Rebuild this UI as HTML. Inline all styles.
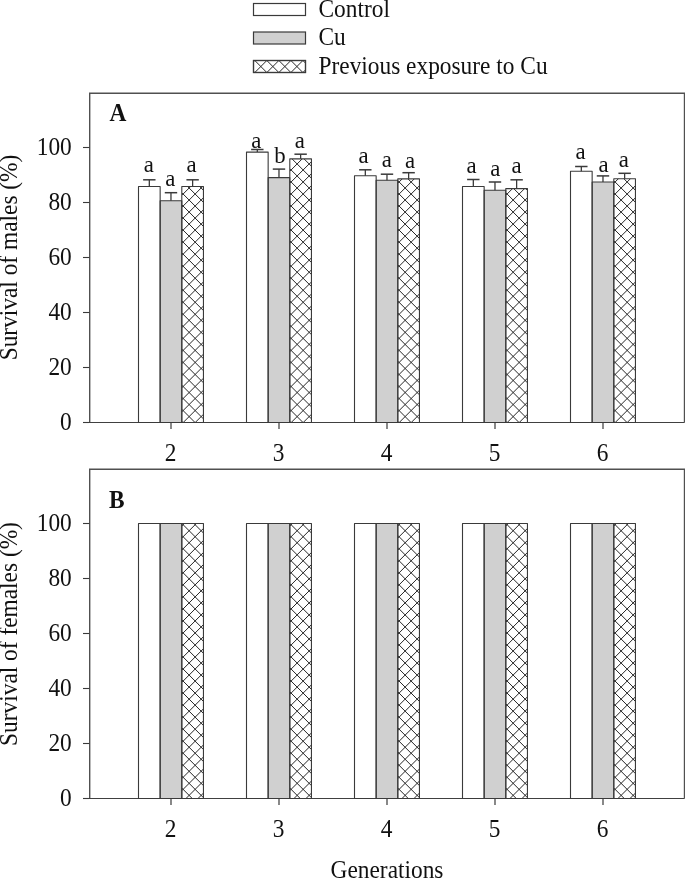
<!DOCTYPE html>
<html><head><meta charset="utf-8"><style>
html,body{margin:0;padding:0;background:#fff;width:685px;height:879px;overflow:hidden}
svg{display:block;filter:grayscale(1)}
text{font-family:"Liberation Serif", serif;fill:#111}
</style></head><body>
<svg width="685" height="879" viewBox="0 0 685 879">
<defs><clipPath id="c0"><rect x="181.8" y="186.5" width="21.649999999999977" height="236.0"/></clipPath><clipPath id="c1"><rect x="289.8" y="158.9" width="21.649999999999977" height="263.6"/></clipPath><clipPath id="c2"><rect x="397.8" y="178.9" width="21.649999999999977" height="243.6"/></clipPath><clipPath id="c3"><rect x="505.8" y="188.6" width="21.650000000000034" height="233.9"/></clipPath><clipPath id="c4"><rect x="613.8" y="178.8" width="21.65000000000009" height="243.7"/></clipPath><clipPath id="c5"><rect x="181.8" y="523.5" width="21.649999999999977" height="275.0"/></clipPath><clipPath id="c6"><rect x="289.8" y="523.5" width="21.649999999999977" height="275.0"/></clipPath><clipPath id="c7"><rect x="397.8" y="523.5" width="21.649999999999977" height="275.0"/></clipPath><clipPath id="c8"><rect x="505.8" y="523.5" width="21.650000000000034" height="275.0"/></clipPath><clipPath id="c9"><rect x="613.8" y="523.5" width="21.65000000000009" height="275.0"/></clipPath><clipPath id="c10"><rect x="253.5" y="60.5" width="52.0" height="12.0"/></clipPath></defs>
<rect width="685" height="879" fill="#fff"/>
<path d="M89.7 422.5V93.2H684.5V422.5" fill="none" stroke="#505050" stroke-width="1.4"/>
<line x1="83.00" y1="422.50" x2="684.50" y2="422.50" stroke="#404040" stroke-width="1.2" />
<line x1="83.00" y1="422.50" x2="89.50" y2="422.50" stroke="#3a3a3a" stroke-width="1.1" />
<text transform="translate(71.80,429.80) scale(0.962,1)" text-anchor="end" font-size="24.3" font-weight="normal">0</text>
<line x1="83.00" y1="367.50" x2="89.50" y2="367.50" stroke="#3a3a3a" stroke-width="1.1" />
<text transform="translate(71.80,374.80) scale(0.962,1)" text-anchor="end" font-size="24.3" font-weight="normal">20</text>
<line x1="83.00" y1="312.50" x2="89.50" y2="312.50" stroke="#3a3a3a" stroke-width="1.1" />
<text transform="translate(71.80,319.80) scale(0.962,1)" text-anchor="end" font-size="24.3" font-weight="normal">40</text>
<line x1="83.00" y1="257.50" x2="89.50" y2="257.50" stroke="#3a3a3a" stroke-width="1.1" />
<text transform="translate(71.80,264.80) scale(0.962,1)" text-anchor="end" font-size="24.3" font-weight="normal">60</text>
<line x1="83.00" y1="202.50" x2="89.50" y2="202.50" stroke="#3a3a3a" stroke-width="1.1" />
<text transform="translate(71.80,209.80) scale(0.962,1)" text-anchor="end" font-size="24.3" font-weight="normal">80</text>
<line x1="83.00" y1="147.50" x2="89.50" y2="147.50" stroke="#3a3a3a" stroke-width="1.1" />
<text transform="translate(71.80,154.80) scale(0.962,1)" text-anchor="end" font-size="24.3" font-weight="normal">100</text>
<line x1="171.00" y1="422.50" x2="171.00" y2="429.00" stroke="#3a3a3a" stroke-width="1.2" />
<text transform="translate(170.50,460.70) scale(0.962,1)" text-anchor="middle" font-size="24.3" font-weight="normal">2</text>
<line x1="279.00" y1="422.50" x2="279.00" y2="429.00" stroke="#3a3a3a" stroke-width="1.2" />
<text transform="translate(278.50,460.70) scale(0.962,1)" text-anchor="middle" font-size="24.3" font-weight="normal">3</text>
<line x1="387.00" y1="422.50" x2="387.00" y2="429.00" stroke="#3a3a3a" stroke-width="1.2" />
<text transform="translate(386.50,460.70) scale(0.962,1)" text-anchor="middle" font-size="24.3" font-weight="normal">4</text>
<line x1="495.00" y1="422.50" x2="495.00" y2="429.00" stroke="#3a3a3a" stroke-width="1.2" />
<text transform="translate(494.50,460.70) scale(0.962,1)" text-anchor="middle" font-size="24.3" font-weight="normal">5</text>
<line x1="603.00" y1="422.50" x2="603.00" y2="429.00" stroke="#3a3a3a" stroke-width="1.2" />
<text transform="translate(602.50,460.70) scale(0.962,1)" text-anchor="middle" font-size="24.3" font-weight="normal">6</text>
<rect x="138.50" y="186.50" width="21.65" height="236.00" fill="#ffffff"/>
<rect x="160.15" y="200.80" width="21.65" height="221.70" fill="#d0d0d0"/>
<rect x="181.80" y="186.50" width="21.65" height="236.00" fill="#ffffff"/>
<path clip-path="url(#c0)" d="M181.80 135.18L203.45 113.53M181.80 132.58L203.45 154.23M181.80 147.21L203.45 125.56M181.80 144.61L203.45 166.26M181.80 159.24L203.45 137.59M181.80 156.64L203.45 178.29M181.80 171.27L203.45 149.62M181.80 168.67L203.45 190.32M181.80 183.30L203.45 161.65M181.80 180.70L203.45 202.35M181.80 195.33L203.45 173.68M181.80 192.73L203.45 214.38M181.80 207.36L203.45 185.71M181.80 204.76L203.45 226.41M181.80 219.39L203.45 197.74M181.80 216.79L203.45 238.44M181.80 231.42L203.45 209.77M181.80 228.82L203.45 250.47M181.80 243.45L203.45 221.80M181.80 240.85L203.45 262.50M181.80 255.48L203.45 233.83M181.80 252.88L203.45 274.53M181.80 267.51L203.45 245.86M181.80 264.91L203.45 286.56M181.80 279.54L203.45 257.89M181.80 276.94L203.45 298.59M181.80 291.57L203.45 269.92M181.80 288.97L203.45 310.62M181.80 303.60L203.45 281.95M181.80 301.00L203.45 322.65M181.80 315.63L203.45 293.98M181.80 313.03L203.45 334.68M181.80 327.66L203.45 306.01M181.80 325.06L203.45 346.71M181.80 339.69L203.45 318.04M181.80 337.09L203.45 358.74M181.80 351.72L203.45 330.07M181.80 349.12L203.45 370.77M181.80 363.75L203.45 342.10M181.80 361.15L203.45 382.80M181.80 375.78L203.45 354.13M181.80 373.18L203.45 394.83M181.80 387.81L203.45 366.16M181.80 385.21L203.45 406.86M181.80 399.84L203.45 378.19M181.80 397.24L203.45 418.89M181.80 411.87L203.45 390.22M181.80 409.27L203.45 430.92M181.80 423.90L203.45 402.25M181.80 421.30L203.45 442.95M181.80 435.93L203.45 414.28M181.80 433.33L203.45 454.98M181.80 447.96L203.45 426.31M181.80 445.36L203.45 467.01M181.80 459.99L203.45 438.34M181.80 457.39L203.45 479.04M181.80 472.02L203.45 450.37M181.80 469.42L203.45 491.07" stroke="#262626" stroke-width="1.0" fill="none"/>
<rect x="138.50" y="186.50" width="21.65" height="236.00" fill="none" stroke="#3a3a3a" stroke-width="1.1" stroke-linejoin="round"/>
<rect x="160.15" y="200.80" width="21.65" height="221.70" fill="none" stroke="#3a3a3a" stroke-width="1.1" stroke-linejoin="round"/>
<rect x="181.80" y="186.50" width="21.65" height="236.00" fill="none" stroke="#3a3a3a" stroke-width="1.1" stroke-linejoin="round"/>
<rect x="246.50" y="152.10" width="21.65" height="270.40" fill="#ffffff"/>
<rect x="268.15" y="177.60" width="21.65" height="244.90" fill="#d0d0d0"/>
<rect x="289.80" y="158.90" width="21.65" height="263.60" fill="#ffffff"/>
<path clip-path="url(#c1)" d="M289.80 111.12L311.45 89.47M289.80 108.52L311.45 130.17M289.80 123.15L311.45 101.50M289.80 120.55L311.45 142.20M289.80 135.18L311.45 113.53M289.80 132.58L311.45 154.23M289.80 147.21L311.45 125.56M289.80 144.61L311.45 166.26M289.80 159.24L311.45 137.59M289.80 156.64L311.45 178.29M289.80 171.27L311.45 149.62M289.80 168.67L311.45 190.32M289.80 183.30L311.45 161.65M289.80 180.70L311.45 202.35M289.80 195.33L311.45 173.68M289.80 192.73L311.45 214.38M289.80 207.36L311.45 185.71M289.80 204.76L311.45 226.41M289.80 219.39L311.45 197.74M289.80 216.79L311.45 238.44M289.80 231.42L311.45 209.77M289.80 228.82L311.45 250.47M289.80 243.45L311.45 221.80M289.80 240.85L311.45 262.50M289.80 255.48L311.45 233.83M289.80 252.88L311.45 274.53M289.80 267.51L311.45 245.86M289.80 264.91L311.45 286.56M289.80 279.54L311.45 257.89M289.80 276.94L311.45 298.59M289.80 291.57L311.45 269.92M289.80 288.97L311.45 310.62M289.80 303.60L311.45 281.95M289.80 301.00L311.45 322.65M289.80 315.63L311.45 293.98M289.80 313.03L311.45 334.68M289.80 327.66L311.45 306.01M289.80 325.06L311.45 346.71M289.80 339.69L311.45 318.04M289.80 337.09L311.45 358.74M289.80 351.72L311.45 330.07M289.80 349.12L311.45 370.77M289.80 363.75L311.45 342.10M289.80 361.15L311.45 382.80M289.80 375.78L311.45 354.13M289.80 373.18L311.45 394.83M289.80 387.81L311.45 366.16M289.80 385.21L311.45 406.86M289.80 399.84L311.45 378.19M289.80 397.24L311.45 418.89M289.80 411.87L311.45 390.22M289.80 409.27L311.45 430.92M289.80 423.90L311.45 402.25M289.80 421.30L311.45 442.95M289.80 435.93L311.45 414.28M289.80 433.33L311.45 454.98M289.80 447.96L311.45 426.31M289.80 445.36L311.45 467.01M289.80 459.99L311.45 438.34M289.80 457.39L311.45 479.04M289.80 472.02L311.45 450.37M289.80 469.42L311.45 491.07" stroke="#262626" stroke-width="1.0" fill="none"/>
<rect x="246.50" y="152.10" width="21.65" height="270.40" fill="none" stroke="#3a3a3a" stroke-width="1.1" stroke-linejoin="round"/>
<rect x="268.15" y="177.60" width="21.65" height="244.90" fill="none" stroke="#3a3a3a" stroke-width="1.1" stroke-linejoin="round"/>
<rect x="289.80" y="158.90" width="21.65" height="263.60" fill="none" stroke="#3a3a3a" stroke-width="1.1" stroke-linejoin="round"/>
<rect x="354.50" y="175.70" width="21.65" height="246.80" fill="#ffffff"/>
<rect x="376.15" y="180.30" width="21.65" height="242.20" fill="#d0d0d0"/>
<rect x="397.80" y="178.90" width="21.65" height="243.60" fill="#ffffff"/>
<path clip-path="url(#c2)" d="M397.80 123.15L419.45 101.50M397.80 120.55L419.45 142.20M397.80 135.18L419.45 113.53M397.80 132.58L419.45 154.23M397.80 147.21L419.45 125.56M397.80 144.61L419.45 166.26M397.80 159.24L419.45 137.59M397.80 156.64L419.45 178.29M397.80 171.27L419.45 149.62M397.80 168.67L419.45 190.32M397.80 183.30L419.45 161.65M397.80 180.70L419.45 202.35M397.80 195.33L419.45 173.68M397.80 192.73L419.45 214.38M397.80 207.36L419.45 185.71M397.80 204.76L419.45 226.41M397.80 219.39L419.45 197.74M397.80 216.79L419.45 238.44M397.80 231.42L419.45 209.77M397.80 228.82L419.45 250.47M397.80 243.45L419.45 221.80M397.80 240.85L419.45 262.50M397.80 255.48L419.45 233.83M397.80 252.88L419.45 274.53M397.80 267.51L419.45 245.86M397.80 264.91L419.45 286.56M397.80 279.54L419.45 257.89M397.80 276.94L419.45 298.59M397.80 291.57L419.45 269.92M397.80 288.97L419.45 310.62M397.80 303.60L419.45 281.95M397.80 301.00L419.45 322.65M397.80 315.63L419.45 293.98M397.80 313.03L419.45 334.68M397.80 327.66L419.45 306.01M397.80 325.06L419.45 346.71M397.80 339.69L419.45 318.04M397.80 337.09L419.45 358.74M397.80 351.72L419.45 330.07M397.80 349.12L419.45 370.77M397.80 363.75L419.45 342.10M397.80 361.15L419.45 382.80M397.80 375.78L419.45 354.13M397.80 373.18L419.45 394.83M397.80 387.81L419.45 366.16M397.80 385.21L419.45 406.86M397.80 399.84L419.45 378.19M397.80 397.24L419.45 418.89M397.80 411.87L419.45 390.22M397.80 409.27L419.45 430.92M397.80 423.90L419.45 402.25M397.80 421.30L419.45 442.95M397.80 435.93L419.45 414.28M397.80 433.33L419.45 454.98M397.80 447.96L419.45 426.31M397.80 445.36L419.45 467.01M397.80 459.99L419.45 438.34M397.80 457.39L419.45 479.04M397.80 472.02L419.45 450.37M397.80 469.42L419.45 491.07" stroke="#262626" stroke-width="1.0" fill="none"/>
<rect x="354.50" y="175.70" width="21.65" height="246.80" fill="none" stroke="#3a3a3a" stroke-width="1.1" stroke-linejoin="round"/>
<rect x="376.15" y="180.30" width="21.65" height="242.20" fill="none" stroke="#3a3a3a" stroke-width="1.1" stroke-linejoin="round"/>
<rect x="397.80" y="178.90" width="21.65" height="243.60" fill="none" stroke="#3a3a3a" stroke-width="1.1" stroke-linejoin="round"/>
<rect x="462.50" y="186.50" width="21.65" height="236.00" fill="#ffffff"/>
<rect x="484.15" y="190.30" width="21.65" height="232.20" fill="#d0d0d0"/>
<rect x="505.80" y="188.60" width="21.65" height="233.90" fill="#ffffff"/>
<path clip-path="url(#c3)" d="M505.80 135.18L527.45 113.53M505.80 132.58L527.45 154.23M505.80 147.21L527.45 125.56M505.80 144.61L527.45 166.26M505.80 159.24L527.45 137.59M505.80 156.64L527.45 178.29M505.80 171.27L527.45 149.62M505.80 168.67L527.45 190.32M505.80 183.30L527.45 161.65M505.80 180.70L527.45 202.35M505.80 195.33L527.45 173.68M505.80 192.73L527.45 214.38M505.80 207.36L527.45 185.71M505.80 204.76L527.45 226.41M505.80 219.39L527.45 197.74M505.80 216.79L527.45 238.44M505.80 231.42L527.45 209.77M505.80 228.82L527.45 250.47M505.80 243.45L527.45 221.80M505.80 240.85L527.45 262.50M505.80 255.48L527.45 233.83M505.80 252.88L527.45 274.53M505.80 267.51L527.45 245.86M505.80 264.91L527.45 286.56M505.80 279.54L527.45 257.89M505.80 276.94L527.45 298.59M505.80 291.57L527.45 269.92M505.80 288.97L527.45 310.62M505.80 303.60L527.45 281.95M505.80 301.00L527.45 322.65M505.80 315.63L527.45 293.98M505.80 313.03L527.45 334.68M505.80 327.66L527.45 306.01M505.80 325.06L527.45 346.71M505.80 339.69L527.45 318.04M505.80 337.09L527.45 358.74M505.80 351.72L527.45 330.07M505.80 349.12L527.45 370.77M505.80 363.75L527.45 342.10M505.80 361.15L527.45 382.80M505.80 375.78L527.45 354.13M505.80 373.18L527.45 394.83M505.80 387.81L527.45 366.16M505.80 385.21L527.45 406.86M505.80 399.84L527.45 378.19M505.80 397.24L527.45 418.89M505.80 411.87L527.45 390.22M505.80 409.27L527.45 430.92M505.80 423.90L527.45 402.25M505.80 421.30L527.45 442.95M505.80 435.93L527.45 414.28M505.80 433.33L527.45 454.98M505.80 447.96L527.45 426.31M505.80 445.36L527.45 467.01M505.80 459.99L527.45 438.34M505.80 457.39L527.45 479.04M505.80 472.02L527.45 450.37M505.80 469.42L527.45 491.07" stroke="#262626" stroke-width="1.0" fill="none"/>
<rect x="462.50" y="186.50" width="21.65" height="236.00" fill="none" stroke="#3a3a3a" stroke-width="1.1" stroke-linejoin="round"/>
<rect x="484.15" y="190.30" width="21.65" height="232.20" fill="none" stroke="#3a3a3a" stroke-width="1.1" stroke-linejoin="round"/>
<rect x="505.80" y="188.60" width="21.65" height="233.90" fill="none" stroke="#3a3a3a" stroke-width="1.1" stroke-linejoin="round"/>
<rect x="570.50" y="171.20" width="21.65" height="251.30" fill="#ffffff"/>
<rect x="592.15" y="182.00" width="21.65" height="240.50" fill="#d0d0d0"/>
<rect x="613.80" y="178.80" width="21.65" height="243.70" fill="#ffffff"/>
<path clip-path="url(#c4)" d="M613.80 123.15L635.45 101.50M613.80 120.55L635.45 142.20M613.80 135.18L635.45 113.53M613.80 132.58L635.45 154.23M613.80 147.21L635.45 125.56M613.80 144.61L635.45 166.26M613.80 159.24L635.45 137.59M613.80 156.64L635.45 178.29M613.80 171.27L635.45 149.62M613.80 168.67L635.45 190.32M613.80 183.30L635.45 161.65M613.80 180.70L635.45 202.35M613.80 195.33L635.45 173.68M613.80 192.73L635.45 214.38M613.80 207.36L635.45 185.71M613.80 204.76L635.45 226.41M613.80 219.39L635.45 197.74M613.80 216.79L635.45 238.44M613.80 231.42L635.45 209.77M613.80 228.82L635.45 250.47M613.80 243.45L635.45 221.80M613.80 240.85L635.45 262.50M613.80 255.48L635.45 233.83M613.80 252.88L635.45 274.53M613.80 267.51L635.45 245.86M613.80 264.91L635.45 286.56M613.80 279.54L635.45 257.89M613.80 276.94L635.45 298.59M613.80 291.57L635.45 269.92M613.80 288.97L635.45 310.62M613.80 303.60L635.45 281.95M613.80 301.00L635.45 322.65M613.80 315.63L635.45 293.98M613.80 313.03L635.45 334.68M613.80 327.66L635.45 306.01M613.80 325.06L635.45 346.71M613.80 339.69L635.45 318.04M613.80 337.09L635.45 358.74M613.80 351.72L635.45 330.07M613.80 349.12L635.45 370.77M613.80 363.75L635.45 342.10M613.80 361.15L635.45 382.80M613.80 375.78L635.45 354.13M613.80 373.18L635.45 394.83M613.80 387.81L635.45 366.16M613.80 385.21L635.45 406.86M613.80 399.84L635.45 378.19M613.80 397.24L635.45 418.89M613.80 411.87L635.45 390.22M613.80 409.27L635.45 430.92M613.80 423.90L635.45 402.25M613.80 421.30L635.45 442.95M613.80 435.93L635.45 414.28M613.80 433.33L635.45 454.98M613.80 447.96L635.45 426.31M613.80 445.36L635.45 467.01M613.80 459.99L635.45 438.34M613.80 457.39L635.45 479.04M613.80 472.02L635.45 450.37M613.80 469.42L635.45 491.07" stroke="#262626" stroke-width="1.0" fill="none"/>
<rect x="570.50" y="171.20" width="21.65" height="251.30" fill="none" stroke="#3a3a3a" stroke-width="1.1" stroke-linejoin="round"/>
<rect x="592.15" y="182.00" width="21.65" height="240.50" fill="none" stroke="#3a3a3a" stroke-width="1.1" stroke-linejoin="round"/>
<rect x="613.80" y="178.80" width="21.65" height="243.70" fill="none" stroke="#3a3a3a" stroke-width="1.1" stroke-linejoin="round"/>
<line x1="149.32" y1="186.50" x2="149.32" y2="179.80" stroke="#3a3a3a" stroke-width="1.3" />
<line x1="143.12" y1="179.80" x2="155.52" y2="179.80" stroke="#3a3a3a" stroke-width="1.5" />
<text transform="translate(148.76,171.67) scale(1.0,1)" text-anchor="middle" font-size="22.8" font-weight="normal">a</text>
<line x1="170.97" y1="200.80" x2="170.97" y2="192.70" stroke="#3a3a3a" stroke-width="1.3" />
<line x1="164.78" y1="192.70" x2="177.17" y2="192.70" stroke="#3a3a3a" stroke-width="1.5" />
<text transform="translate(170.36,185.67) scale(1.0,1)" text-anchor="middle" font-size="22.8" font-weight="normal">a</text>
<line x1="192.62" y1="186.50" x2="192.62" y2="179.80" stroke="#3a3a3a" stroke-width="1.3" />
<line x1="186.43" y1="179.80" x2="198.82" y2="179.80" stroke="#3a3a3a" stroke-width="1.5" />
<text transform="translate(191.66,172.17) scale(1.0,1)" text-anchor="middle" font-size="22.8" font-weight="normal">a</text>
<line x1="257.32" y1="152.10" x2="257.32" y2="149.50" stroke="#3a3a3a" stroke-width="1.3" />
<line x1="251.12" y1="149.50" x2="263.52" y2="149.50" stroke="#3a3a3a" stroke-width="1.5" />
<text transform="translate(256.26,147.57) scale(1.0,1)" text-anchor="middle" font-size="22.8" font-weight="normal">a</text>
<line x1="278.98" y1="177.60" x2="278.98" y2="169.10" stroke="#3a3a3a" stroke-width="1.3" />
<line x1="272.78" y1="169.10" x2="285.18" y2="169.10" stroke="#3a3a3a" stroke-width="1.5" />
<text transform="translate(280.00,163.27) scale(1.0,1)" text-anchor="middle" font-size="22.8" font-weight="normal">b</text>
<line x1="300.62" y1="158.90" x2="300.62" y2="154.20" stroke="#3a3a3a" stroke-width="1.3" />
<line x1="294.43" y1="154.20" x2="306.82" y2="154.20" stroke="#3a3a3a" stroke-width="1.5" />
<text transform="translate(299.76,148.17) scale(1.0,1)" text-anchor="middle" font-size="22.8" font-weight="normal">a</text>
<line x1="365.32" y1="175.70" x2="365.32" y2="169.80" stroke="#3a3a3a" stroke-width="1.3" />
<line x1="359.12" y1="169.80" x2="371.52" y2="169.80" stroke="#3a3a3a" stroke-width="1.5" />
<text transform="translate(363.56,163.47) scale(1.0,1)" text-anchor="middle" font-size="22.8" font-weight="normal">a</text>
<line x1="386.98" y1="180.30" x2="386.98" y2="174.20" stroke="#3a3a3a" stroke-width="1.3" />
<line x1="380.78" y1="174.20" x2="393.18" y2="174.20" stroke="#3a3a3a" stroke-width="1.5" />
<text transform="translate(386.76,166.97) scale(1.0,1)" text-anchor="middle" font-size="22.8" font-weight="normal">a</text>
<line x1="408.62" y1="178.90" x2="408.62" y2="172.70" stroke="#3a3a3a" stroke-width="1.3" />
<line x1="402.43" y1="172.70" x2="414.82" y2="172.70" stroke="#3a3a3a" stroke-width="1.5" />
<text transform="translate(410.16,167.57) scale(1.0,1)" text-anchor="middle" font-size="22.8" font-weight="normal">a</text>
<line x1="473.32" y1="186.50" x2="473.32" y2="179.50" stroke="#3a3a3a" stroke-width="1.3" />
<line x1="467.12" y1="179.50" x2="479.52" y2="179.50" stroke="#3a3a3a" stroke-width="1.5" />
<text transform="translate(471.46,172.77) scale(1.0,1)" text-anchor="middle" font-size="22.8" font-weight="normal">a</text>
<line x1="494.98" y1="190.30" x2="494.98" y2="182.00" stroke="#3a3a3a" stroke-width="1.3" />
<line x1="488.78" y1="182.00" x2="501.18" y2="182.00" stroke="#3a3a3a" stroke-width="1.5" />
<text transform="translate(495.36,176.27) scale(1.0,1)" text-anchor="middle" font-size="22.8" font-weight="normal">a</text>
<line x1="516.62" y1="188.60" x2="516.62" y2="179.80" stroke="#3a3a3a" stroke-width="1.3" />
<line x1="510.43" y1="179.80" x2="522.83" y2="179.80" stroke="#3a3a3a" stroke-width="1.5" />
<text transform="translate(516.46,172.77) scale(1.0,1)" text-anchor="middle" font-size="22.8" font-weight="normal">a</text>
<line x1="581.33" y1="171.20" x2="581.33" y2="166.50" stroke="#3a3a3a" stroke-width="1.3" />
<line x1="575.12" y1="166.50" x2="587.53" y2="166.50" stroke="#3a3a3a" stroke-width="1.5" />
<text transform="translate(580.66,158.67) scale(1.0,1)" text-anchor="middle" font-size="22.8" font-weight="normal">a</text>
<line x1="602.98" y1="182.00" x2="602.98" y2="175.90" stroke="#3a3a3a" stroke-width="1.3" />
<line x1="596.77" y1="175.90" x2="609.18" y2="175.90" stroke="#3a3a3a" stroke-width="1.5" />
<text transform="translate(603.56,171.57) scale(1.0,1)" text-anchor="middle" font-size="22.8" font-weight="normal">a</text>
<line x1="624.62" y1="178.80" x2="624.62" y2="173.30" stroke="#3a3a3a" stroke-width="1.3" />
<line x1="618.42" y1="173.30" x2="630.83" y2="173.30" stroke="#3a3a3a" stroke-width="1.5" />
<text transform="translate(623.76,166.57) scale(1.0,1)" text-anchor="middle" font-size="22.8" font-weight="normal">a</text>
<text transform="translate(109.50,120.80) scale(0.962,1)" text-anchor="start" font-size="24.3" font-weight="bold">A</text>
<text transform="translate(17.00,257.50) rotate(-90) scale(0.962,1)" text-anchor="middle" font-size="24.3" font-weight="normal">Survival of males (%)</text>
<path d="M89.7 798.5V469.2H684.5V798.5" fill="none" stroke="#505050" stroke-width="1.4"/>
<line x1="83.00" y1="798.50" x2="684.50" y2="798.50" stroke="#404040" stroke-width="1.2" />
<line x1="83.00" y1="798.50" x2="89.50" y2="798.50" stroke="#3a3a3a" stroke-width="1.1" />
<text transform="translate(71.80,806.40) scale(0.962,1)" text-anchor="end" font-size="24.3" font-weight="normal">0</text>
<line x1="83.00" y1="743.50" x2="89.50" y2="743.50" stroke="#3a3a3a" stroke-width="1.1" />
<text transform="translate(71.80,751.40) scale(0.962,1)" text-anchor="end" font-size="24.3" font-weight="normal">20</text>
<line x1="83.00" y1="688.50" x2="89.50" y2="688.50" stroke="#3a3a3a" stroke-width="1.1" />
<text transform="translate(71.80,696.40) scale(0.962,1)" text-anchor="end" font-size="24.3" font-weight="normal">40</text>
<line x1="83.00" y1="633.50" x2="89.50" y2="633.50" stroke="#3a3a3a" stroke-width="1.1" />
<text transform="translate(71.80,641.40) scale(0.962,1)" text-anchor="end" font-size="24.3" font-weight="normal">60</text>
<line x1="83.00" y1="578.50" x2="89.50" y2="578.50" stroke="#3a3a3a" stroke-width="1.1" />
<text transform="translate(71.80,586.40) scale(0.962,1)" text-anchor="end" font-size="24.3" font-weight="normal">80</text>
<line x1="83.00" y1="523.50" x2="89.50" y2="523.50" stroke="#3a3a3a" stroke-width="1.1" />
<text transform="translate(71.80,531.40) scale(0.962,1)" text-anchor="end" font-size="24.3" font-weight="normal">100</text>
<line x1="171.00" y1="798.50" x2="171.00" y2="805.00" stroke="#3a3a3a" stroke-width="1.2" />
<text transform="translate(170.50,836.70) scale(0.962,1)" text-anchor="middle" font-size="24.3" font-weight="normal">2</text>
<line x1="279.00" y1="798.50" x2="279.00" y2="805.00" stroke="#3a3a3a" stroke-width="1.2" />
<text transform="translate(278.50,836.70) scale(0.962,1)" text-anchor="middle" font-size="24.3" font-weight="normal">3</text>
<line x1="387.00" y1="798.50" x2="387.00" y2="805.00" stroke="#3a3a3a" stroke-width="1.2" />
<text transform="translate(386.50,836.70) scale(0.962,1)" text-anchor="middle" font-size="24.3" font-weight="normal">4</text>
<line x1="495.00" y1="798.50" x2="495.00" y2="805.00" stroke="#3a3a3a" stroke-width="1.2" />
<text transform="translate(494.50,836.70) scale(0.962,1)" text-anchor="middle" font-size="24.3" font-weight="normal">5</text>
<line x1="603.00" y1="798.50" x2="603.00" y2="805.00" stroke="#3a3a3a" stroke-width="1.2" />
<text transform="translate(602.50,836.70) scale(0.962,1)" text-anchor="middle" font-size="24.3" font-weight="normal">6</text>
<rect x="138.50" y="523.50" width="21.65" height="275.00" fill="#ffffff"/>
<rect x="160.15" y="523.50" width="21.65" height="275.00" fill="#d0d0d0"/>
<rect x="181.80" y="523.50" width="21.65" height="275.00" fill="#ffffff"/>
<path clip-path="url(#c5)" d="M181.80 477.88L203.45 456.23M181.80 475.28L203.45 496.93M181.80 489.91L203.45 468.26M181.80 487.31L203.45 508.96M181.80 501.94L203.45 480.29M181.80 499.34L203.45 520.99M181.80 513.97L203.45 492.32M181.80 511.37L203.45 533.02M181.80 526.00L203.45 504.35M181.80 523.40L203.45 545.05M181.80 538.03L203.45 516.38M181.80 535.43L203.45 557.08M181.80 550.06L203.45 528.41M181.80 547.46L203.45 569.11M181.80 562.09L203.45 540.44M181.80 559.49L203.45 581.14M181.80 574.12L203.45 552.47M181.80 571.52L203.45 593.17M181.80 586.15L203.45 564.50M181.80 583.55L203.45 605.20M181.80 598.18L203.45 576.53M181.80 595.58L203.45 617.23M181.80 610.21L203.45 588.56M181.80 607.61L203.45 629.26M181.80 622.24L203.45 600.59M181.80 619.64L203.45 641.29M181.80 634.27L203.45 612.62M181.80 631.67L203.45 653.32M181.80 646.30L203.45 624.65M181.80 643.70L203.45 665.35M181.80 658.33L203.45 636.68M181.80 655.73L203.45 677.38M181.80 670.36L203.45 648.71M181.80 667.76L203.45 689.41M181.80 682.39L203.45 660.74M181.80 679.79L203.45 701.44M181.80 694.42L203.45 672.77M181.80 691.82L203.45 713.47M181.80 706.45L203.45 684.80M181.80 703.85L203.45 725.50M181.80 718.48L203.45 696.83M181.80 715.88L203.45 737.53M181.80 730.51L203.45 708.86M181.80 727.91L203.45 749.56M181.80 742.54L203.45 720.89M181.80 739.94L203.45 761.59M181.80 754.57L203.45 732.92M181.80 751.97L203.45 773.62M181.80 766.60L203.45 744.95M181.80 764.00L203.45 785.65M181.80 778.63L203.45 756.98M181.80 776.03L203.45 797.68M181.80 790.66L203.45 769.01M181.80 788.06L203.45 809.71M181.80 802.69L203.45 781.04M181.80 800.09L203.45 821.74M181.80 814.72L203.45 793.07M181.80 812.12L203.45 833.77M181.80 826.75L203.45 805.10M181.80 824.15L203.45 845.80M181.80 838.78L203.45 817.13M181.80 836.18L203.45 857.83M181.80 850.81L203.45 829.16M181.80 848.21L203.45 869.86" stroke="#262626" stroke-width="1.0" fill="none"/>
<rect x="138.50" y="523.50" width="21.65" height="275.00" fill="none" stroke="#3a3a3a" stroke-width="1.1" stroke-linejoin="round"/>
<rect x="160.15" y="523.50" width="21.65" height="275.00" fill="none" stroke="#3a3a3a" stroke-width="1.1" stroke-linejoin="round"/>
<rect x="181.80" y="523.50" width="21.65" height="275.00" fill="none" stroke="#3a3a3a" stroke-width="1.1" stroke-linejoin="round"/>
<rect x="246.50" y="523.50" width="21.65" height="275.00" fill="#ffffff"/>
<rect x="268.15" y="523.50" width="21.65" height="275.00" fill="#d0d0d0"/>
<rect x="289.80" y="523.50" width="21.65" height="275.00" fill="#ffffff"/>
<path clip-path="url(#c6)" d="M289.80 477.88L311.45 456.23M289.80 475.28L311.45 496.93M289.80 489.91L311.45 468.26M289.80 487.31L311.45 508.96M289.80 501.94L311.45 480.29M289.80 499.34L311.45 520.99M289.80 513.97L311.45 492.32M289.80 511.37L311.45 533.02M289.80 526.00L311.45 504.35M289.80 523.40L311.45 545.05M289.80 538.03L311.45 516.38M289.80 535.43L311.45 557.08M289.80 550.06L311.45 528.41M289.80 547.46L311.45 569.11M289.80 562.09L311.45 540.44M289.80 559.49L311.45 581.14M289.80 574.12L311.45 552.47M289.80 571.52L311.45 593.17M289.80 586.15L311.45 564.50M289.80 583.55L311.45 605.20M289.80 598.18L311.45 576.53M289.80 595.58L311.45 617.23M289.80 610.21L311.45 588.56M289.80 607.61L311.45 629.26M289.80 622.24L311.45 600.59M289.80 619.64L311.45 641.29M289.80 634.27L311.45 612.62M289.80 631.67L311.45 653.32M289.80 646.30L311.45 624.65M289.80 643.70L311.45 665.35M289.80 658.33L311.45 636.68M289.80 655.73L311.45 677.38M289.80 670.36L311.45 648.71M289.80 667.76L311.45 689.41M289.80 682.39L311.45 660.74M289.80 679.79L311.45 701.44M289.80 694.42L311.45 672.77M289.80 691.82L311.45 713.47M289.80 706.45L311.45 684.80M289.80 703.85L311.45 725.50M289.80 718.48L311.45 696.83M289.80 715.88L311.45 737.53M289.80 730.51L311.45 708.86M289.80 727.91L311.45 749.56M289.80 742.54L311.45 720.89M289.80 739.94L311.45 761.59M289.80 754.57L311.45 732.92M289.80 751.97L311.45 773.62M289.80 766.60L311.45 744.95M289.80 764.00L311.45 785.65M289.80 778.63L311.45 756.98M289.80 776.03L311.45 797.68M289.80 790.66L311.45 769.01M289.80 788.06L311.45 809.71M289.80 802.69L311.45 781.04M289.80 800.09L311.45 821.74M289.80 814.72L311.45 793.07M289.80 812.12L311.45 833.77M289.80 826.75L311.45 805.10M289.80 824.15L311.45 845.80M289.80 838.78L311.45 817.13M289.80 836.18L311.45 857.83M289.80 850.81L311.45 829.16M289.80 848.21L311.45 869.86" stroke="#262626" stroke-width="1.0" fill="none"/>
<rect x="246.50" y="523.50" width="21.65" height="275.00" fill="none" stroke="#3a3a3a" stroke-width="1.1" stroke-linejoin="round"/>
<rect x="268.15" y="523.50" width="21.65" height="275.00" fill="none" stroke="#3a3a3a" stroke-width="1.1" stroke-linejoin="round"/>
<rect x="289.80" y="523.50" width="21.65" height="275.00" fill="none" stroke="#3a3a3a" stroke-width="1.1" stroke-linejoin="round"/>
<rect x="354.50" y="523.50" width="21.65" height="275.00" fill="#ffffff"/>
<rect x="376.15" y="523.50" width="21.65" height="275.00" fill="#d0d0d0"/>
<rect x="397.80" y="523.50" width="21.65" height="275.00" fill="#ffffff"/>
<path clip-path="url(#c7)" d="M397.80 477.88L419.45 456.23M397.80 475.28L419.45 496.93M397.80 489.91L419.45 468.26M397.80 487.31L419.45 508.96M397.80 501.94L419.45 480.29M397.80 499.34L419.45 520.99M397.80 513.97L419.45 492.32M397.80 511.37L419.45 533.02M397.80 526.00L419.45 504.35M397.80 523.40L419.45 545.05M397.80 538.03L419.45 516.38M397.80 535.43L419.45 557.08M397.80 550.06L419.45 528.41M397.80 547.46L419.45 569.11M397.80 562.09L419.45 540.44M397.80 559.49L419.45 581.14M397.80 574.12L419.45 552.47M397.80 571.52L419.45 593.17M397.80 586.15L419.45 564.50M397.80 583.55L419.45 605.20M397.80 598.18L419.45 576.53M397.80 595.58L419.45 617.23M397.80 610.21L419.45 588.56M397.80 607.61L419.45 629.26M397.80 622.24L419.45 600.59M397.80 619.64L419.45 641.29M397.80 634.27L419.45 612.62M397.80 631.67L419.45 653.32M397.80 646.30L419.45 624.65M397.80 643.70L419.45 665.35M397.80 658.33L419.45 636.68M397.80 655.73L419.45 677.38M397.80 670.36L419.45 648.71M397.80 667.76L419.45 689.41M397.80 682.39L419.45 660.74M397.80 679.79L419.45 701.44M397.80 694.42L419.45 672.77M397.80 691.82L419.45 713.47M397.80 706.45L419.45 684.80M397.80 703.85L419.45 725.50M397.80 718.48L419.45 696.83M397.80 715.88L419.45 737.53M397.80 730.51L419.45 708.86M397.80 727.91L419.45 749.56M397.80 742.54L419.45 720.89M397.80 739.94L419.45 761.59M397.80 754.57L419.45 732.92M397.80 751.97L419.45 773.62M397.80 766.60L419.45 744.95M397.80 764.00L419.45 785.65M397.80 778.63L419.45 756.98M397.80 776.03L419.45 797.68M397.80 790.66L419.45 769.01M397.80 788.06L419.45 809.71M397.80 802.69L419.45 781.04M397.80 800.09L419.45 821.74M397.80 814.72L419.45 793.07M397.80 812.12L419.45 833.77M397.80 826.75L419.45 805.10M397.80 824.15L419.45 845.80M397.80 838.78L419.45 817.13M397.80 836.18L419.45 857.83M397.80 850.81L419.45 829.16M397.80 848.21L419.45 869.86" stroke="#262626" stroke-width="1.0" fill="none"/>
<rect x="354.50" y="523.50" width="21.65" height="275.00" fill="none" stroke="#3a3a3a" stroke-width="1.1" stroke-linejoin="round"/>
<rect x="376.15" y="523.50" width="21.65" height="275.00" fill="none" stroke="#3a3a3a" stroke-width="1.1" stroke-linejoin="round"/>
<rect x="397.80" y="523.50" width="21.65" height="275.00" fill="none" stroke="#3a3a3a" stroke-width="1.1" stroke-linejoin="round"/>
<rect x="462.50" y="523.50" width="21.65" height="275.00" fill="#ffffff"/>
<rect x="484.15" y="523.50" width="21.65" height="275.00" fill="#d0d0d0"/>
<rect x="505.80" y="523.50" width="21.65" height="275.00" fill="#ffffff"/>
<path clip-path="url(#c8)" d="M505.80 477.88L527.45 456.23M505.80 475.28L527.45 496.93M505.80 489.91L527.45 468.26M505.80 487.31L527.45 508.96M505.80 501.94L527.45 480.29M505.80 499.34L527.45 520.99M505.80 513.97L527.45 492.32M505.80 511.37L527.45 533.02M505.80 526.00L527.45 504.35M505.80 523.40L527.45 545.05M505.80 538.03L527.45 516.38M505.80 535.43L527.45 557.08M505.80 550.06L527.45 528.41M505.80 547.46L527.45 569.11M505.80 562.09L527.45 540.44M505.80 559.49L527.45 581.14M505.80 574.12L527.45 552.47M505.80 571.52L527.45 593.17M505.80 586.15L527.45 564.50M505.80 583.55L527.45 605.20M505.80 598.18L527.45 576.53M505.80 595.58L527.45 617.23M505.80 610.21L527.45 588.56M505.80 607.61L527.45 629.26M505.80 622.24L527.45 600.59M505.80 619.64L527.45 641.29M505.80 634.27L527.45 612.62M505.80 631.67L527.45 653.32M505.80 646.30L527.45 624.65M505.80 643.70L527.45 665.35M505.80 658.33L527.45 636.68M505.80 655.73L527.45 677.38M505.80 670.36L527.45 648.71M505.80 667.76L527.45 689.41M505.80 682.39L527.45 660.74M505.80 679.79L527.45 701.44M505.80 694.42L527.45 672.77M505.80 691.82L527.45 713.47M505.80 706.45L527.45 684.80M505.80 703.85L527.45 725.50M505.80 718.48L527.45 696.83M505.80 715.88L527.45 737.53M505.80 730.51L527.45 708.86M505.80 727.91L527.45 749.56M505.80 742.54L527.45 720.89M505.80 739.94L527.45 761.59M505.80 754.57L527.45 732.92M505.80 751.97L527.45 773.62M505.80 766.60L527.45 744.95M505.80 764.00L527.45 785.65M505.80 778.63L527.45 756.98M505.80 776.03L527.45 797.68M505.80 790.66L527.45 769.01M505.80 788.06L527.45 809.71M505.80 802.69L527.45 781.04M505.80 800.09L527.45 821.74M505.80 814.72L527.45 793.07M505.80 812.12L527.45 833.77M505.80 826.75L527.45 805.10M505.80 824.15L527.45 845.80M505.80 838.78L527.45 817.13M505.80 836.18L527.45 857.83M505.80 850.81L527.45 829.16M505.80 848.21L527.45 869.86" stroke="#262626" stroke-width="1.0" fill="none"/>
<rect x="462.50" y="523.50" width="21.65" height="275.00" fill="none" stroke="#3a3a3a" stroke-width="1.1" stroke-linejoin="round"/>
<rect x="484.15" y="523.50" width="21.65" height="275.00" fill="none" stroke="#3a3a3a" stroke-width="1.1" stroke-linejoin="round"/>
<rect x="505.80" y="523.50" width="21.65" height="275.00" fill="none" stroke="#3a3a3a" stroke-width="1.1" stroke-linejoin="round"/>
<rect x="570.50" y="523.50" width="21.65" height="275.00" fill="#ffffff"/>
<rect x="592.15" y="523.50" width="21.65" height="275.00" fill="#d0d0d0"/>
<rect x="613.80" y="523.50" width="21.65" height="275.00" fill="#ffffff"/>
<path clip-path="url(#c9)" d="M613.80 477.88L635.45 456.23M613.80 475.28L635.45 496.93M613.80 489.91L635.45 468.26M613.80 487.31L635.45 508.96M613.80 501.94L635.45 480.29M613.80 499.34L635.45 520.99M613.80 513.97L635.45 492.32M613.80 511.37L635.45 533.02M613.80 526.00L635.45 504.35M613.80 523.40L635.45 545.05M613.80 538.03L635.45 516.38M613.80 535.43L635.45 557.08M613.80 550.06L635.45 528.41M613.80 547.46L635.45 569.11M613.80 562.09L635.45 540.44M613.80 559.49L635.45 581.14M613.80 574.12L635.45 552.47M613.80 571.52L635.45 593.17M613.80 586.15L635.45 564.50M613.80 583.55L635.45 605.20M613.80 598.18L635.45 576.53M613.80 595.58L635.45 617.23M613.80 610.21L635.45 588.56M613.80 607.61L635.45 629.26M613.80 622.24L635.45 600.59M613.80 619.64L635.45 641.29M613.80 634.27L635.45 612.62M613.80 631.67L635.45 653.32M613.80 646.30L635.45 624.65M613.80 643.70L635.45 665.35M613.80 658.33L635.45 636.68M613.80 655.73L635.45 677.38M613.80 670.36L635.45 648.71M613.80 667.76L635.45 689.41M613.80 682.39L635.45 660.74M613.80 679.79L635.45 701.44M613.80 694.42L635.45 672.77M613.80 691.82L635.45 713.47M613.80 706.45L635.45 684.80M613.80 703.85L635.45 725.50M613.80 718.48L635.45 696.83M613.80 715.88L635.45 737.53M613.80 730.51L635.45 708.86M613.80 727.91L635.45 749.56M613.80 742.54L635.45 720.89M613.80 739.94L635.45 761.59M613.80 754.57L635.45 732.92M613.80 751.97L635.45 773.62M613.80 766.60L635.45 744.95M613.80 764.00L635.45 785.65M613.80 778.63L635.45 756.98M613.80 776.03L635.45 797.68M613.80 790.66L635.45 769.01M613.80 788.06L635.45 809.71M613.80 802.69L635.45 781.04M613.80 800.09L635.45 821.74M613.80 814.72L635.45 793.07M613.80 812.12L635.45 833.77M613.80 826.75L635.45 805.10M613.80 824.15L635.45 845.80M613.80 838.78L635.45 817.13M613.80 836.18L635.45 857.83M613.80 850.81L635.45 829.16M613.80 848.21L635.45 869.86" stroke="#262626" stroke-width="1.0" fill="none"/>
<rect x="570.50" y="523.50" width="21.65" height="275.00" fill="none" stroke="#3a3a3a" stroke-width="1.1" stroke-linejoin="round"/>
<rect x="592.15" y="523.50" width="21.65" height="275.00" fill="none" stroke="#3a3a3a" stroke-width="1.1" stroke-linejoin="round"/>
<rect x="613.80" y="523.50" width="21.65" height="275.00" fill="none" stroke="#3a3a3a" stroke-width="1.1" stroke-linejoin="round"/>
<text transform="translate(109.00,507.60) scale(0.962,1)" text-anchor="start" font-size="24.3" font-weight="bold">B</text>
<text transform="translate(17.00,634.00) rotate(-90) scale(0.962,1)" text-anchor="middle" font-size="24.3" font-weight="normal">Survival of females (%)</text>
<text transform="translate(387.00,878.00) scale(0.962,1)" text-anchor="middle" font-size="24.3" font-weight="normal">Generations</text>
<rect x="253.5" y="3.50" width="52" height="12" fill="#fff" stroke="#3a3a3a" stroke-width="1.2"/>
<text transform="translate(318.50,16.50) scale(0.962,1)" text-anchor="start" font-size="24.3" font-weight="normal">Control</text>
<rect x="253.5" y="32.00" width="52" height="12" fill="#d0d0d0" stroke="#3a3a3a" stroke-width="1.2"/>
<text transform="translate(318.50,45.30) scale(0.962,1)" text-anchor="start" font-size="24.3" font-weight="normal">Cu</text>
<rect x="253.5" y="60.50" width="52" height="12" fill="#fff" stroke="#3a3a3a" stroke-width="1.2"/>
<path clip-path="url(#c10)" d="M253.50 -22.41L305.50 -74.41M253.50 -25.01L305.50 26.99M253.50 -10.38L305.50 -62.38M253.50 -12.98L305.50 39.02M253.50 1.65L305.50 -50.35M253.50 -0.95L305.50 51.05M253.50 13.68L305.50 -38.32M253.50 11.08L305.50 63.08M253.50 25.71L305.50 -26.29M253.50 23.11L305.50 75.11M253.50 37.74L305.50 -14.26M253.50 35.14L305.50 87.14M253.50 49.77L305.50 -2.23M253.50 47.17L305.50 99.17M253.50 61.80L305.50 9.80M253.50 59.20L305.50 111.20M253.50 73.83L305.50 21.83M253.50 71.23L305.50 123.23M253.50 85.86L305.50 33.86M253.50 83.26L305.50 135.26M253.50 97.89L305.50 45.89M253.50 95.29L305.50 147.29M253.50 109.92L305.50 57.92M253.50 107.32L305.50 159.32M253.50 121.95L305.50 69.95M253.50 119.35L305.50 171.35M253.50 133.98L305.50 81.98M253.50 131.38L305.50 183.38M253.50 146.01L305.50 94.01M253.50 143.41L305.50 195.41M253.50 158.04L305.50 106.04M253.50 155.44L305.50 207.44" stroke="#262626" stroke-width="1.0" fill="none"/>
<rect x="253.5" y="60.50" width="52" height="12" fill="none" stroke="#3a3a3a" stroke-width="1.2"/>
<text transform="translate(318.50,74.00) scale(0.962,1)" text-anchor="start" font-size="24.3" font-weight="normal">Previous exposure to Cu</text>
</svg></body></html>
